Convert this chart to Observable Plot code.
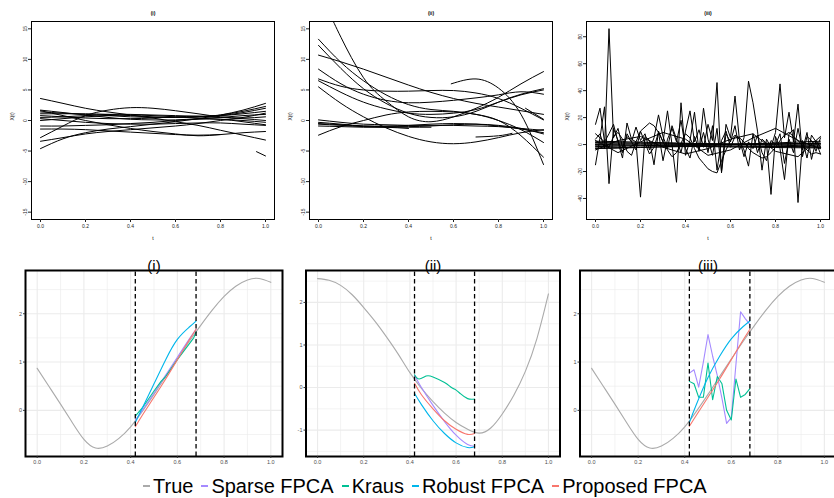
<!DOCTYPE html>
<html><head><meta charset="utf-8">
<script src="https://cdn.jsdelivr.net/npm/d3@7"></script>
<script src="https://cdn.jsdelivr.net/npm/@observablehq/plot@0.6"></script>
<style>
body{margin:0;background:#fff;}
#wrap{position:relative;width:834px;height:498px;overflow:hidden;background:#fff;font-family:"Liberation Sans",Arial,sans-serif;}
#wrap svg{position:absolute;overflow:visible;}
#legend{position:absolute;left:143px;top:474px;height:24px;display:flex;align-items:center;font-size:20px;color:#000;white-space:nowrap;}
.item{display:flex;align-items:center;margin-right:8px;}
.key{display:inline-block;width:7px;height:2px;margin-right:3px;}
</style></head><body><div id="wrap"><div id="legend"></div></div>
<script>
const FONT = "Liberation Sans, Arial, sans-serif";
// ---------- shared ticks ----------
const xTicks = [0, 0.2, 0.4, 0.6, 0.8, 1.0];
const xMinor = [0.1, 0.3, 0.5, 0.7, 0.9];
const topTitles = ["(i)", "(ii)", "(iii)"];
const bottomTitles = ["(i)", "(ii)", "(iii)"];
const topYTicksA = [-15, -10, -5, 0, 5, 10, 15];
const topYTicksC = [-40, -20, 0, 20, 40, 60, 80];

// ---------- top row data ----------
const tTop = [0, 0.1, 0.2, 0.3, 0.4, 0.5, 0.6, 0.7, 0.8, 0.9, 1.0];
const curvesTopI = [
  [3.6, 2.8, 2.0, 1.4, 0.9, 0.4, -0.2, -0.8, -1.6, -2.4, -3.2],
  [-4.6, -3.0, -2.0, -1.4, -1.0, -0.6, -0.2, 0.3, 0.9, 1.7, 2.8],
  [-2.8, -0.9, 0.8, 1.7, 2.1, 2.0, 1.6, 1.1, 0.6, 0.4, 0.6],
  [-3.4, -2.8, -2.2, -1.8, -1.5, -1.2, -0.9, -0.5, 0.0, 0.5, 1.2],
  [1.6, 0.8, 0.0, -0.7, -1.3, -1.8, -2.2, -2.5, -2.3, -2.0, -1.8],
  [-1.4, -1.4, -1.5, -1.7, -1.9, -2.1, -2.3, -2.4, -2.3, null, null],
  [-0.9, -0.9, -0.8, -0.7, -0.5, -0.3, 0.0, 0.2, 0.2, -0.2, -0.7],
  [1.4, 1.2, 1.0, 0.8, 0.6, 0.5, 0.5, 0.6, 0.9, 1.5, 2.3],
  [1.1, 1.1, 1.1, 1.0, 0.8, 0.6, 0.5, 0.6, 0.8, 1.3, 2.0],
  [0.8, 0.6, 0.4, 0.3, 0.3, 0.4, 0.6, 0.7, 0.8, 1.1, 1.5],
  [0.0, 0.3, 0.6, 0.8, 0.9, 0.8, 0.6, 0.4, 0.2, 0.0, -0.3],
  [0.5, 0.6, 0.8, 1.0, 1.0, 0.9, 0.8, 0.7, 0.5, 0.3, 0.0],
  [0.3, 0.0, -0.3, -0.5, -0.6, -0.6, -0.5, -0.4, -0.4, -0.6, -0.8],
  [1.7, 1.3, 0.9, 0.5, 0.2, 0.1, 0.1, 0.3, 0.5, 0.8, 1.0]
];
const segmentsTopI = [
  [[0.96, -5.1], [1.0, -5.8]]
];
const curvesTopII = [
  [13.3, 9.5, 6.5, 4.2, 2.6, 1.8, 1.5, 1.0, 0.0, -2.5, -6.0],
  [12.3, 8.5, 5.2, 2.8, 1.2, 0.5, 0.6, 1.5, 3.0, 4.3, 5.2],
  [10.7, 9.6, 8.4, 7.1, 5.8, 4.6, 3.6, 2.8, 2.2, 1.6, 1.0],
  [8.4, 6.0, 4.3, 3.3, 2.9, 3.0, 3.3, 3.7, 4.2, 4.7, 4.3],
  [6.8, 5.6, 5.0, 4.8, 4.8, 4.9, 4.9, 4.5, 3.6, 2.0, 0.1],
  [6.5, 4.6, 3.0, 1.9, 1.2, 1.0, 1.2, 1.8, 3.0, 4.2, 5.0],
  [5.5, 2.8, 0.6, -1.2, -2.6, -3.5, -3.8, -3.5, -2.8, -2.0, -1.5],
  [0.1, -0.3, -0.6, -0.7, -0.8, -0.8, -0.8, -0.9, -1.0, -1.3, -1.6],
  [-0.3, -0.6, -0.9, -1.0, -1.0, -0.9, -0.7, -0.6, -0.8, -1.3, -2.2],
  [-0.6, -0.8, -1.0, -1.1, -1.3, null, null, null, null, null, null],
  [-0.9, -1.0, -1.1, -1.1, -1.1, -1.1, null, null, null, null, null],
  [-2.4, -1.0, 0.0, 0.9, 1.4, 1.5, 1.4, 1.0, 0.0, -1.5, -3.6],
  [-0.5, -0.7, -0.9, -0.9, -0.8, -0.6, -0.5, -0.6, -0.9, -1.4, -2.0]
];
const segmentsTopII = [
  [[0.05, 17.5], [0.1, 13.6], [0.2, 7.0], [0.3, 3.2], [0.4, 0.6], [0.5, -0.2], [0.6, 0.6], [0.7, 2.0], [0.8, 3.8], [0.9, 6.0], [1.0, 8.0]],
  [[0.59, 6.0], [0.7, 6.8], [0.8, 5.3], [0.9, 1.0], [1.0, -7.2]],
  [[0.7, -2.7], [0.8, -2.5], [0.86, -2.1]],
  [[0.92, 2.0], [1.0, 0.2]]
];
const tFlat = [0, 0.2, 0.4, 0.6, 0.8, 1.0];
const flatTopIII = [
  [1.5, 1.2, 0.8, 0.5, 0.3, 0.2],
  [0.5, 0.6, 0.4, 0.2, 0.5, 0.9],
  [-0.5, -0.3, 0.0, 0.2, 0.4, 1.0],
  [-1.5, -1.0, -0.8, -1.0, -1.3, -1.8],
  [-2.5, -2.0, -1.5, -1.2, -1.5, -2.0],
  [0.0, -0.5, -1.2, -1.8, -2.2, -2.5],
  [2.5, 1.8, 1.0, 0.2, -0.5, -1.0],
  [-3.0, -2.2, -1.0, 0.0, 1.2, 2.5]
];
const wavyTopIII = [
  [-4, 3, 6, -2, -7, -3, 4, 8, -5, -9, 6],
  [3, -6, 2, 9, 4, -8, -4, 5, 12, 3, -3]
];
const tJag = [0,0.02,0.04,0.06,0.08,0.1,0.12,0.14,0.16,0.18,0.2,0.22,0.24,0.26,0.28,0.3,0.32,0.34,0.36,0.38,0.4,0.42,0.44,0.46,0.48,0.5,0.52,0.54,0.56,0.58,0.6,0.62,0.64,0.66,0.68,0.7,0.72,0.74,0.76,0.78,0.8,0.82,0.84,0.86,0.88,0.9,0.92,0.94,0.96,0.98,1.0];
const jaggedTopIII = [
  [4,8,-3,86,5,12,-2,6,2,13, 3,8,-4,5,22,6,-3,14,4,-6, 10,25,2,11,-2,15,3,46,-21,8, 2,14,-4,5,47,31,10,-19,4,-2, 9,45,5,24,2,30,-9,6,3,-5, 5],
  [15,27,2,8,15,2,-10,16,4,2, -39,6,3,-15,10,2,25,0,-28,31, -8,3,24,-5,27,4,-8,12,-20,15, 5,36,3,-4,-16,8,-6,4,1,-37, 6,-3,-26,8,11,-43,3,-10,7,2, -7],
  [-15,5,28,-29,12,3,-6,8,2,-4, 10,1,-7,-2,9,-12,4,12,2,18, -3,-10,6,-4,9,-6,14,-19,3,10, -2,6,4,-9,2,-3,7,-6,-12,3, 0,8,-14,4,-6,12,-4,9,-11,3, -2],
  [8,5,2,-2,6,9,4,-5,-8,2, 10,13,16,14,9,2,-4,-9,-6,1, 8,5,-3,-10,-14,-18,-20,-21,-12,-4, 3,7,5,2,-3,-6,-8,-10,-9,-6, -2,3,7,9,6,3,-1,-4,-7,-6, -7]
];

// ---------- bottom row data ----------
const tTrue = [0,0.05,0.1,0.15,0.2,0.25,0.3,0.35,0.4,0.45,0.5,0.55,0.6,0.65,0.7,0.75,0.8,0.85,0.9,0.95,1.0];
const trueA = [0.87,0.50,0.13,-0.25,-0.60,-0.78,-0.74,-0.58,-0.34,-0.02,0.33,0.70,1.06,1.42,1.76,2.08,2.36,2.57,2.70,2.73,2.65];
const trueB = [2.56,2.52,2.40,2.18,1.88,1.55,1.18,0.78,0.35,-0.02,-0.33,-0.60,-0.82,-0.98,-1.07,-0.95,-0.62,-0.18,0.38,1.15,2.20];
const cutPoints = [0.42, 0.68];
const tEst = [0.42, 0.45, 0.5, 0.55, 0.6, 0.65, 0.68];
const tKrausI = [0.42, 0.45, 0.5, 0.53, 0.55, 0.6, 0.65, 0.67, 0.68];
const tKrausII = [0.42, 0.44, 0.47, 0.5, 0.55, 0.58, 0.6, 0.62, 0.65, 0.68];
const tEstJag = [0.42,0.44,0.46,0.48,0.5,0.52,0.54,0.56,0.58,0.6,0.62,0.64,0.66,0.68];
const sparseI = [-0.2, 0.0, 0.36, 0.73, 1.1, 1.47, 1.68];
const krausI = [-0.12, 0.05, 0.4, 0.6, 0.7, 1.05, 1.37, 1.5, 1.62];
const robustI = [-0.25, 0.05, 0.55, 1.05, 1.47, 1.72, 1.85];
const proposedI = [-0.34, -0.10, 0.27, 0.65, 1.05, 1.45, 1.68];
const sparseII = [0.29, 0.0, -0.42, -0.8, -1.12, -1.34, -1.38];
const krausII = [0.3, 0.2, 0.27, 0.25, 0.12, 0.0, -0.06, -0.15, -0.26, -0.27];
const robustII = [-0.14, -0.4, -0.78, -1.08, -1.3, -1.41, -1.39];
const proposedII = [0.1, -0.17, -0.5, -0.78, -0.98, -1.1, -1.08];
const sparseIII = [0.77, 0.84, 0.48, 1.0, 1.57, 1.12, 0.72, 0.25, -0.27, -0.15, 0.95, 2.04, 1.9, 1.78];
const krausIII = [0.6, 0.55, 0.27, 0.27, 0.98, 0.22, 0.7, 0.55, 0.0, -0.2, 0.65, 0.27, 0.33, 0.45];
const robustIII = [-0.25, 0.12, 0.68, 1.12, 1.48, 1.73, 1.85];
const proposedIII = [-0.33, -0.10, 0.27, 0.65, 1.05, 1.45, 1.68];

const seriesNames = ["True", "Sparse FPCA", "Kraus", "Robust FPCA", "Proposed FPCA"];
const seriesColors = ["#AAAAAA", "#A58AFF", "#00C094", "#00B6EB", "#F8766D"];
const COL = Object.fromEntries(seriesNames.map((n, i) => [n, seriesColors[i]]));

// ---------- helpers ----------
function gridRows(curves, grid, prefix) {
  const rows = [];
  curves.forEach((ys, i) => ys.forEach((y, j) => rows.push({id: prefix + i, t: grid[j], y})));
  return rows;
}
function pairRows(segs, prefix) {
  const rows = [];
  segs.forEach((s, i) => s.forEach(([t, y]) => rows.push({id: prefix + i, t, y})));
  return rows;
}
function xy(ts, ys) { return ts.map((t, i) => ({t, y: ys[i]})); }

function topPanel(o) {
  return Plot.plot({
    width: o.width, height: 248,
    marginLeft: 31, marginRight: o.mr, marginTop: 21, marginBottom: 29,
    x: {domain: [-0.04, 1.04]}, y: {domain: o.yDomain},
    style: {fontFamily: FONT, background: "transparent", overflow: "visible", color: "#000"},
    marks: [
      ...o.lines,
      Plot.frame({stroke: "black", strokeWidth: 1}),
      Plot.axisX({ticks: xTicks, tickFormat: d3.format(".1f"), tickSize: 3, tickPadding: 2, fontSize: 5, color: "#222", label: null}),
      Plot.axisY({ticks: o.yTicks, tickFormat: d => String(d), tickSize: 3, tickRotate: -90, tickPadding: 2, fontSize: 5, color: "#222", label: null}),
      Plot.text([o.title], {text: d => d, frameAnchor: "top", dy: -10, fontWeight: "bold", fontSize: 5, fill: "#000"}),
      Plot.text(["X(t)"], {text: d => d, frameAnchor: "left", dx: -19, rotate: -90, fontSize: 5, fill: "#000"}),
      Plot.text(["t"], {text: d => d, frameAnchor: "bottom", dy: 20, fontSize: 5, fill: "#000"})
    ]
  });
}
const blk = {x: "t", y: "y", z: "id", stroke: "black", strokeWidth: 1, clip: true};

const top1 = topPanel({
  width: 278, mr: 4, yDomain: [-16.2, 16.2], yTicks: topYTicksA, title: topTitles[0],
  lines: [
    Plot.line(gridRows(curvesTopI, tTop, "a"), {...blk, curve: "natural"}),
    Plot.line(pairRows(segmentsTopI, "s"), {...blk, curve: "natural"})
  ]
});
const top2 = topPanel({
  width: 278, mr: 4, yDomain: [-16.2, 16.2], yTicks: topYTicksA, title: topTitles[1],
  lines: [
    Plot.line(gridRows(curvesTopII, tTop, "b"), {...blk, curve: "natural"}),
    Plot.line(pairRows(segmentsTopII, "s"), {...blk, curve: "natural"})
  ]
});
const top3 = topPanel({
  width: 279, mr: 5, yDomain: [-55.6, 91.3], yTicks: topYTicksC, title: topTitles[2],
  lines: [
    Plot.line(gridRows(flatTopIII, tFlat, "f"), {...blk, curve: "natural"}),
    Plot.line(gridRows(wavyTopIII, tTop, "w"), {...blk, curve: "linear"}),
    Plot.line(gridRows(jaggedTopIII, tJag, "j"), {...blk, curve: "linear"})
  ]
});

function bottomPanel(o) {
  const grid = {strokeOpacity: 1, stroke: "#EBEBEB"};
  return Plot.plot({
    width: o.width, height: 222,
    marginLeft: o.ml, marginRight: o.mr, marginTop: 22, marginBottom: 14,
    x: {domain: [-0.05, 1.05]}, y: {domain: o.yDomain},
    style: {fontFamily: FONT, background: "transparent", overflow: "visible", color: "#000"},
    marks: [
      Plot.gridX({ticks: xMinor, ...grid, strokeWidth: 0.6}),
      Plot.gridY({ticks: o.yMinor, ...grid, strokeWidth: 0.6}),
      Plot.gridX({ticks: xTicks, ...grid, strokeWidth: 1.1}),
      Plot.gridY({ticks: o.yTicks, ...grid, strokeWidth: 1.1}),
      Plot.line(xy(tTrue, o.truth), {x: "t", y: "y", stroke: COL["True"], strokeWidth: 1.1, curve: "natural"}),
      ...o.series.map(([name, ts, ys, curve]) =>
        Plot.line(xy(ts, ys), {x: "t", y: "y", stroke: COL[name], strokeWidth: 1.1, curve})),
      Plot.ruleX(cutPoints, {x: d => d, y1: () => o.yDomain[0], y2: () => o.yDomain[1], stroke: "black", strokeWidth: 1.3, strokeDasharray: "4.5,3", clip: true}),
      Plot.frame({stroke: "black", strokeWidth: 2}),
      Plot.axisX({ticks: xTicks, tickFormat: d3.format(".1f"), tickSize: 2, tickPadding: 1.5, fontSize: 5.5, fill: "#4D4D4D", stroke: "#333", label: null}),
      Plot.axisY({ticks: o.yTicks, tickFormat: d => String(d), tickSize: 2, tickPadding: 1.5, fontSize: 5.5, fill: "#4D4D4D", stroke: "#333", label: null}),
      Plot.text([o.title], {text: d => d, frameAnchor: "top", dy: -10, fontSize: 15, fill: "#000"})
    ]
  });
}
const bot1 = bottomPanel({
  width: 290, ml: 25, mr: 8, yDomain: [-0.955, 2.895], yTicks: [0, 1, 2], yMinor: [-0.5, 0.5, 1.5, 2.5],
  truth: trueA, title: bottomTitles[0],
  series: [
    ["Sparse FPCA", tEst, sparseI, "natural"],
    ["Kraus", tKrausI, krausI, "linear"],
    ["Robust FPCA", tEst, robustI, "natural"],
    ["Proposed FPCA", tEst, proposedI, "natural"]
  ]
});
const bot2 = bottomPanel({
  width: 278, ml: 15.5, mr: 8.5, yDomain: [-1.62, 2.75], yTicks: [-1, 0, 1, 2], yMinor: [-1.5, -0.5, 0.5, 1.5, 2.5],
  truth: trueB, title: bottomTitles[1],
  series: [
    ["Sparse FPCA", tEst, sparseII, "natural"],
    ["Kraus", tKrausII, krausII, "natural"],
    ["Robust FPCA", tEst, robustII, "natural"],
    ["Proposed FPCA", tEst, proposedII, "natural"]
  ]
});
const bot3 = bottomPanel({
  width: 268, ml: 11.5, mr: 0.5, yDomain: [-0.955, 2.895], yTicks: [0, 1, 2], yMinor: [-0.5, 0.5, 1.5, 2.5],
  truth: trueA, title: bottomTitles[2],
  series: [
    ["Sparse FPCA", tEstJag, sparseIII, "linear"],
    ["Kraus", tEstJag, krausIII, "linear"],
    ["Robust FPCA", tEst, robustIII, "natural"],
    ["Proposed FPCA", tEst, proposedIII, "natural"]
  ]
});

const wrap = document.getElementById("wrap");
[[top1, 0, 0], [top2, 278, 0], [top3, 555, 0], [bot1, 0, 248], [bot2, 290, 248], [bot3, 568, 248]].forEach(([svg, l, t]) => {
  svg.style.left = l + "px"; svg.style.top = t + "px";
  wrap.appendChild(svg);
});

const legend = document.getElementById("legend");
seriesNames.forEach((n, i) => {
  const item = document.createElement("div");
  item.className = "item";
  const key = document.createElement("span");
  key.className = "key";
  key.style.background = seriesColors[i];
  const lab = document.createElement("span");
  lab.textContent = n;
  item.appendChild(key); item.appendChild(lab);
  legend.appendChild(item);
});
</script></body></html>
